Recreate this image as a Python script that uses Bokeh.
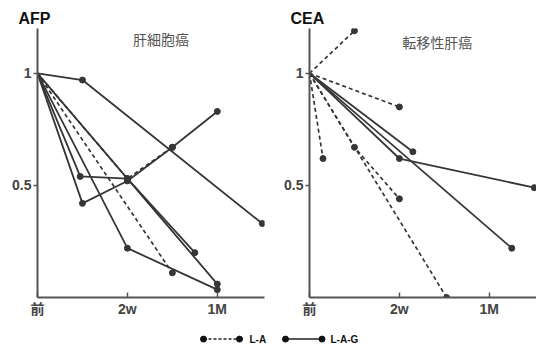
from bokeh.plotting import figure
from bokeh.models import Range1d, FixedTicker
from bokeh.layouts import column, row
from bokeh.embed import file_html
from bokeh.resources import INLINE
from bokeh.core.properties import value

# ---- data (x in weeks: 0 = 前, 2 = 2w, 4 = 1M) ----
x_ticks = [0, 2, 4]
x_tick_labels = ["前", "2w", "1M"]
y_ticks = [0.5, 1]
y_tick_labels = ["0.5", "1"]

# AFP  肝細胞癌
afp_la_weeks = [[0, 3], [0, 2, 3]]
afp_la_vals = [[1, 0.11], [1, 0.53, 0.67]]
afp_lag_weeks = [[0, 1, 5], [0, 1, 2, 3, 4], [0, 0.95, 2, 4], [0, 2, 3.5], [0, 2, 4]]
afp_lag_vals = [[1, 0.97, 0.33], [1, 0.42, 0.52, 0.67, 0.83], [1, 0.54, 0.53, 0.06],
                [1, 0.53, 0.2], [1, 0.22, 0.035]]

# CEA  転移性肝癌
cea_la_weeks = [[0, 1], [0, 2], [0, 0.3], [0, 1, 2], [0, 3.05]]
cea_la_vals = [[1, 1.19], [1, 0.85], [1, 0.62], [1, 0.67, 0.44], [1, 0.0]]
cea_lag_weeks = [[0, 2.3], [0, 2, 5], [0, 4.5]]
cea_lag_vals = [[1, 0.65], [1, 0.62, 0.49], [1, 0.22]]

legend_labels = ["L-A", "L-A-G"]

LINE = "#363636"
AXIS = "#555555"
LATIN = "'Liberation Sans', 'Noto Sans CJK JP'"
CJK = "'Noto Sans CJK JP'"


def panel(title, subtitle, sub_x, sub_y, la_w, la_v, lag_w, lag_v, border_left, border_right):
    p = figure(frame_width=227, frame_height=269,
               min_border_left=border_left, min_border_right=border_right,
               min_border_top=28, min_border_bottom=17,
               x_range=Range1d(0, 5.05), y_range=Range1d(0, 1.2),
               output_backend="svg", toolbar_location=None, tools="")
    p.outline_line_color = None
    p.grid.visible = False
    p.background_fill_color = "white"

    p.title.text = title
    p.title.text_font = LATIN
    p.title.text_font_size = "16px"
    p.title.text_font_style = "bold"
    p.title.text_color = "#111111"
    p.title.align = "left"
    p.title.offset = -19
    p.title.standoff = 4

    for ax in (p.xaxis[0], p.yaxis[0]):
        ax.axis_line_color = AXIS
        ax.axis_line_width = 2
        ax.major_tick_line_color = AXIS
        ax.major_tick_line_width = 1.5
        ax.minor_tick_line_color = None
        ax.major_label_text_font = LATIN
        ax.major_label_text_font_size = "14px"
        ax.major_label_text_font_style = "bold"
        ax.major_label_text_color = "#444444"

    p.xaxis.ticker = FixedTicker(ticks=x_ticks)
    p.xaxis.major_label_overrides = dict(zip(x_ticks, x_tick_labels))
    p.xaxis.major_tick_in = 5
    p.xaxis.major_tick_out = 0
    p.xaxis.major_label_standoff = 3

    p.yaxis.ticker = FixedTicker(ticks=y_ticks)
    p.yaxis.major_label_overrides = dict(zip(y_ticks, y_tick_labels))
    p.yaxis.major_tick_in = 0
    p.yaxis.major_tick_out = 4
    p.yaxis.major_label_standoff = 2

    for w, v in zip(la_w, la_v):
        p.line(w, v, line_color=LINE, line_width=1.7, line_dash="4 3")
        p.scatter(w[1:], v[1:], size=6, fill_color=LINE, line_color=LINE)
    for w, v in zip(lag_w, lag_v):
        p.line(w, v, line_color=LINE, line_width=1.8)
        p.scatter(w[1:], v[1:], size=6, fill_color=LINE, line_color=LINE)

    p.text(x=[sub_x], y=[sub_y], text=[subtitle], text_font=value(CJK),
           text_font_size="14px", text_color="#555555",
           text_align="center", text_baseline="middle")
    return p


p1 = panel("AFP", "肝細胞癌", 2.75, 1.155,
           afp_la_weeks, afp_la_vals, afp_lag_weeks, afp_lag_vals, 37, 8)
p2 = panel("CEA", "転移性肝癌", 2.84, 1.14,
           cea_la_weeks, cea_la_vals, cea_lag_weeks, cea_lag_vals, 37, 0)

# legend strip (x in pixels across the strip)
leg = figure(width=536, height=28, x_range=Range1d(0, 536), y_range=Range1d(0, 1),
             output_backend="svg", toolbar_location=None, tools="",
             min_border=0)
leg.axis.visible = False
leg.grid.visible = False
leg.outline_line_color = None
ly = [0.3, 0.3]
leg.line([203, 239], ly, line_color="#222222", line_width=1.5, line_dash="3 2")
leg.scatter([203, 239], ly, size=6, fill_color="#111111", line_color="#111111")
leg.line([285, 321.5], ly, line_color="#222222", line_width=1.5)
leg.scatter([285, 321.5], ly, size=6, fill_color="#111111", line_color="#111111")
leg.text(x=[249, 330], y=ly, text=legend_labels, text_font=value("Liberation Sans"),
         text_font_size="10px", text_font_style="bold", text_color="#111111",
         text_baseline="middle")

layout = column(row(p1, p2), leg, spacing=0)
open("out.html", "w").write(file_html(layout, INLINE))
